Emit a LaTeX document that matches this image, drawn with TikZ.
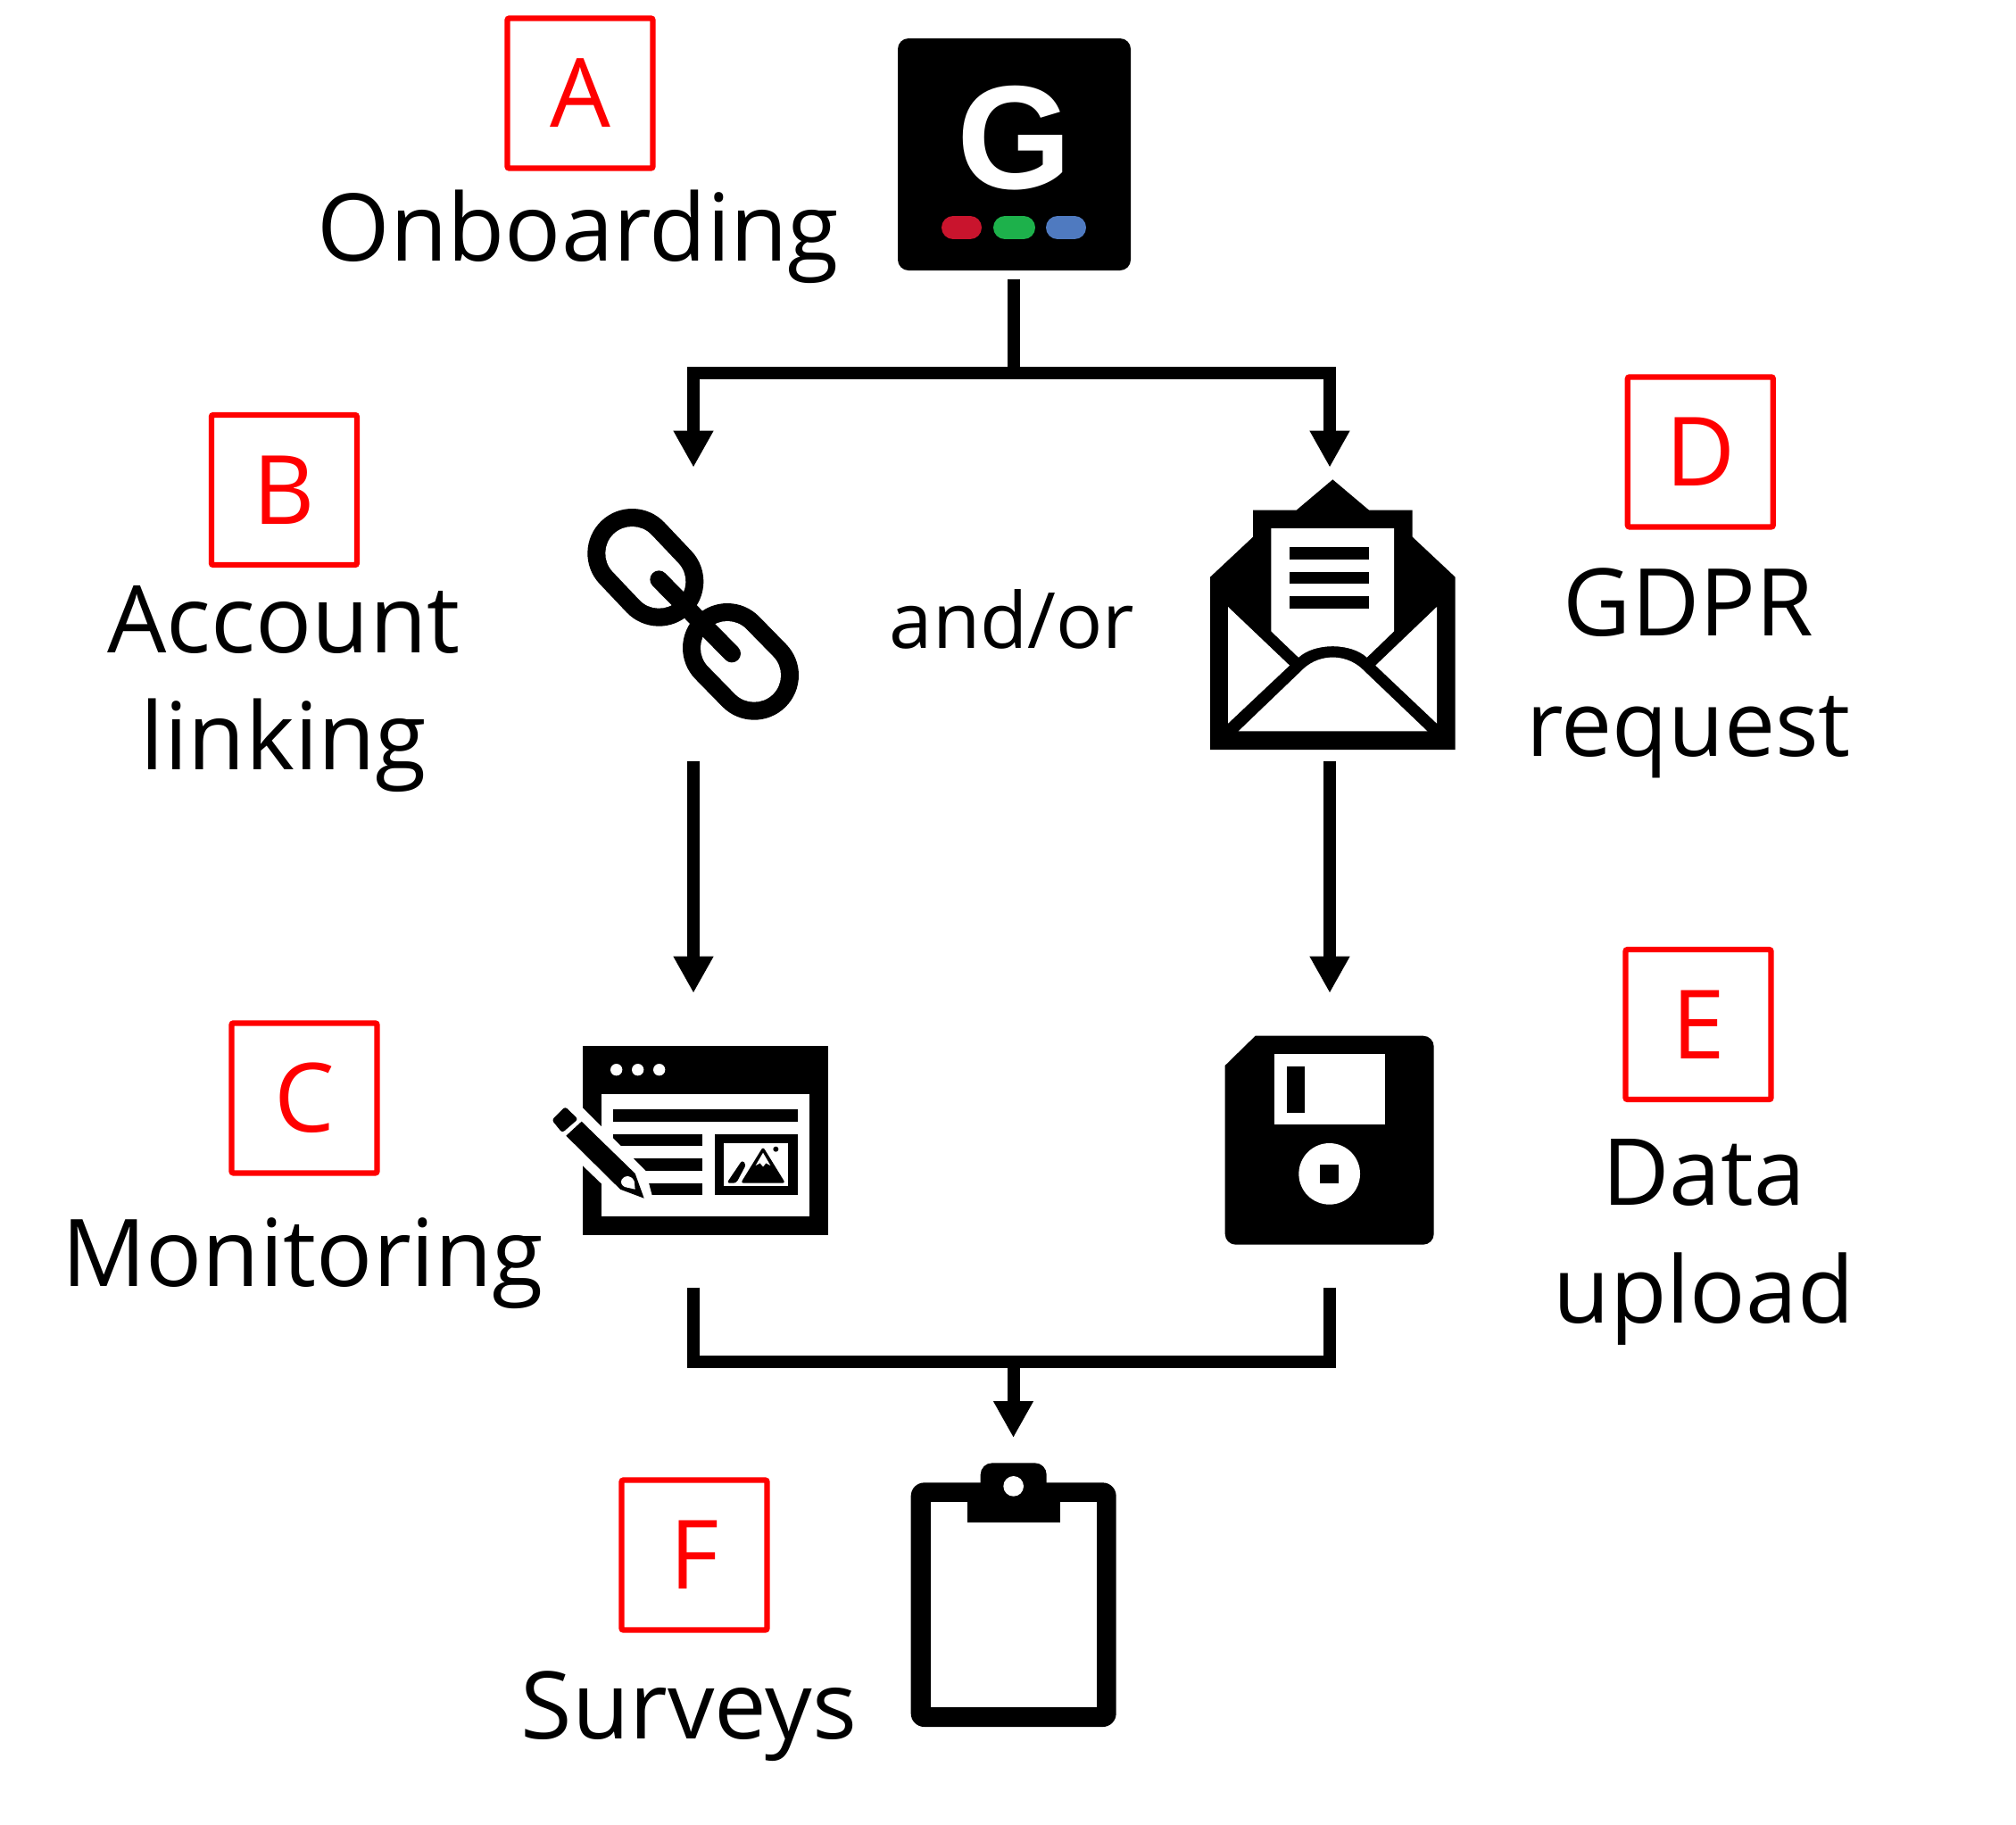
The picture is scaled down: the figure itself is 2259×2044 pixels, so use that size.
\documentclass[tikz,border=0pt]{standalone}
\usepackage{fontspec}
\setmainfont{Open Sans}
\newfontfamily\logofont{Liberation Sans}
\usetikzlibrary{arrows.meta}
\definecolor{logored}{HTML}{C9142D}
\definecolor{logogreen}{HTML}{1DB14B}
\definecolor{logoblue}{HTML}{4F7AC0}
\begin{document}
\begin{tikzpicture}[x=0.1mm,y=-0.1mm]

	\tikzset{
	    caixa/.style={draw=red, line width=0.62mm, rounded corners=0.2mm, text=red, minimum width=16.3mm, minimum height=16.8mm, inner sep=0pt, font=\fontsize{30.5}{37}\selectfont},
	    rotulo/.style={align=center, inner sep=0pt, font=\fontsize{29.8}{37.5}\selectfont},
	    marco/.style={minimum width=24mm, inner sep=0pt, outer sep=0pt},
	    seta/.style={line width=1.4mm, shorten >=-0.1mm, -{Triangle[width=4.2mm,length=4.1mm]}},
	    linha/.style={line width=1.4mm}
	}

	\useasboundingbox (0,0) rectangle (2259,2044);

	% Marcos dos icones
	\node[marco, minimum height=27mm] (gapp) at (1135.5,178) {};
	\node[marco, minimum height=33.06mm] (link) at (777,688) {};
	\node[marco, minimum height=33.06mm] (mail) at (1490,688) {};
	\node[marco, minimum height=33.1mm] (monitor) at (777,1277.2) {};
	\node[marco, minimum height=33.1mm] (disk) at (1490,1277.2) {};
	\node[marco, minimum height=34mm] (board) at (1135.5,1780) {};

	% Onboarding
	\fill[rounded corners=1.2mm] (1006,43) rectangle (1267,303);
	\node[text=white, inner sep=0pt, font=\logofont\bfseries\fontsize{47}{47}\selectfont] (gletter) at (1136.5,155) {G};
	\draw[logored, line width=2.6mm, line cap=round] (1068,255) -- (1087,255);
	\draw[logogreen, line width=2.6mm, line cap=round] (1126,255) -- (1147,255);
	\draw[logoblue, line width=2.6mm, line cap=round] (1185,255) -- (1204,255);

	% Corrente
	\begin{scope}[shift={(630,550)},scale=1/3, line cap=round]
	  \draw[line width=10mm] (235,210) -- (325,305);
	  \draw[white, line width=6mm] (235,210) -- (325,305);
	  \draw[line width=10mm] (555,528) -- (645,620);
	  \draw[white, line width=6mm] (555,528) -- (645,620);
	  \draw[line width=2mm] (325,298) -- (570,547);
	\end{scope}

	% Envelope
	\begin{scope}[shift={(1340,520)},scale=1/3]
	  \fill (48,960) -- (48,380) -- (192,245) -- (192,155) -- (338,155) -- (460,52) -- (582,155)
	    -- (728,155) -- (728,245) -- (872,380) -- (872,960) -- cycle;
	  \fill[white] (253,216) -- (666,216) -- (666,562) -- (575,650)
	    .. controls (520,600) and (400,600) .. (345,650) -- (253,562) -- cycle;
	  \fill[white] (108,480) -- (315,677) -- (108,872) -- cycle;
	  \fill[white] (810,480) -- (604,677) -- (810,872) -- cycle;
	  \fill[white] (143,898) -- (365,685) .. controls (420,638) and (500,638) .. (555,685) -- (778,898) -- cycle;
	  \fill (315,280) rectangle (582,320);
	  \fill (315,362) rectangle (582,403);
	  \fill (315,445) rectangle (582,485);
	\end{scope}

	% Janela com lapis
	\begin{scope}[shift={(600,1150)},scale=1/3]
	  \fill (160,65) rectangle (983,702);
	  \fill[white] (221,229) rectangle (922,640);
	  \foreach \px in {272,344,416}
	    \fill[white] (\px,146) circle (20);
	  \fill (262,280) rectangle (881,321);
	  \fill (262,362) rectangle (561,403);
	  \fill (262,445) rectangle (561,486);
	  \fill (262,527) rectangle (561,568);
	  \fill (602,362) rectangle (881,568);
	  \fill[white] (634,393) rectangle (850,537);
	  \fill[rounded corners=0.3mm] (690,527) -- (765,405) -- (840,527) -- cycle;
	  \fill[rounded corners=0.3mm] (643,527) -- (695,450) -- (708,465) -- (675,527) -- cycle;
	  \fill[white] (765,425) -- (790,468) -- (775,460) -- (765,472) -- (755,460) -- (740,468) -- cycle;
	  \fill (808,413) circle (9);
	  \fill[white] (130,245) -- (370,485) -- (395,580) -- (380,610) -- (285,590) -- (90,402) -- cycle;
	  \fill[rounded corners=0.3mm] (55,315) -- (100,270) -- (143,312) -- (90,358) -- cycle;
	  \fill (155,320) -- (335,495) -- (365,578) -- (285,548) -- (103,368) -- cycle;
	  \fill[white] (290,515) .. controls (300,500) and (320,498) .. (332,520) -- (335,548) -- (300,540) .. controls (290,535) and (285,525) .. (290,515) -- cycle;
	\end{scope}

	% Disquete
	\begin{scope}[shift={(1350,1140)},scale=1/3]
	  \fill (170,62) [rounded corners=1.2mm] -- (770,62) -- (770,764) -- (68,764) [sharp corners] -- (68,162) -- cycle;
	  \fill[white] (234,124) rectangle (605,360);
	  \fill (275,165) rectangle (337,320);
	  \fill[white] (419,526) circle (103);
	  \fill (388,495) rectangle (450,557);
	\end{scope}

	% Prancheta
	\begin{scope}[shift={(1000,1620)},scale=1/3]
	  \fill[rounded corners=1.5mm] (62,124) rectangle (752,945);
	  \fill[white] (129,190) rectangle (686,878);
	  \fill[rounded corners=1.3mm] (296,200) -- (296,58) -- (518,58) -- (518,200) -- cycle;
	  \fill (251,190) rectangle (563,257);
	  \fill[white] (407,136) circle (34);
	\end{scope}

	% Conexoes
	\coordinate (abre) at (1135.5,418.3);
	\coordinate (fecha) at (1135.5,1526.3);
	\draw[linha] (gapp.south) -- (abre);
	\draw[seta] (abre) -| (link.north);
	\draw[seta] (abre) -| (mail.north);
	\draw[seta] (link.south) -- (monitor.north);
	\draw[seta] (mail.south) -- (disk.north);
	\draw[linha] (monitor.south) |- (fecha);
	\draw[linha] (disk.south) |- (fecha);
	\draw[seta] (fecha) -- (board.north);

	% Marcas
	\node[caixa] (ca) at (650,104.5) {A};
	\node[caixa] (cb) at (318.4,549) {B};
	\node[caixa] (cc) at (341,1230.4) {C};
	\node[caixa] (cd) at (1905.3,506.4) {D};
	\node[caixa] (ce) at (1903,1148) {E};
	\node[caixa] (cf) at (778,1742.5) {F};

	% Rotulos
	\node[rotulo, anchor=base] (onboarding) at (648,292) {Onboarding};
	\node[rotulo] (account) at (318,772) {Account\\linking};
	\node[rotulo, font=\fontsize{24.7}{26}\selectfont, anchor=base] (andor) at (1134,726) {and/or};
	\node[rotulo] (gdpr) at (1892,754) {GDPR\\[0.3mm]\fontsize{29}{37.5}\selectfont request};
	\node[rotulo, anchor=base] (monitoring) at (339,1441) {Monitoring};
	\node[rotulo, font=\fontsize{29.5}{37.5}\selectfont] (upload) at (1909,1392) {Data\\upload};
	\node[rotulo, anchor=base] (surveys) at (772,1948) {Surveys};

\end{tikzpicture}
\end{document}
